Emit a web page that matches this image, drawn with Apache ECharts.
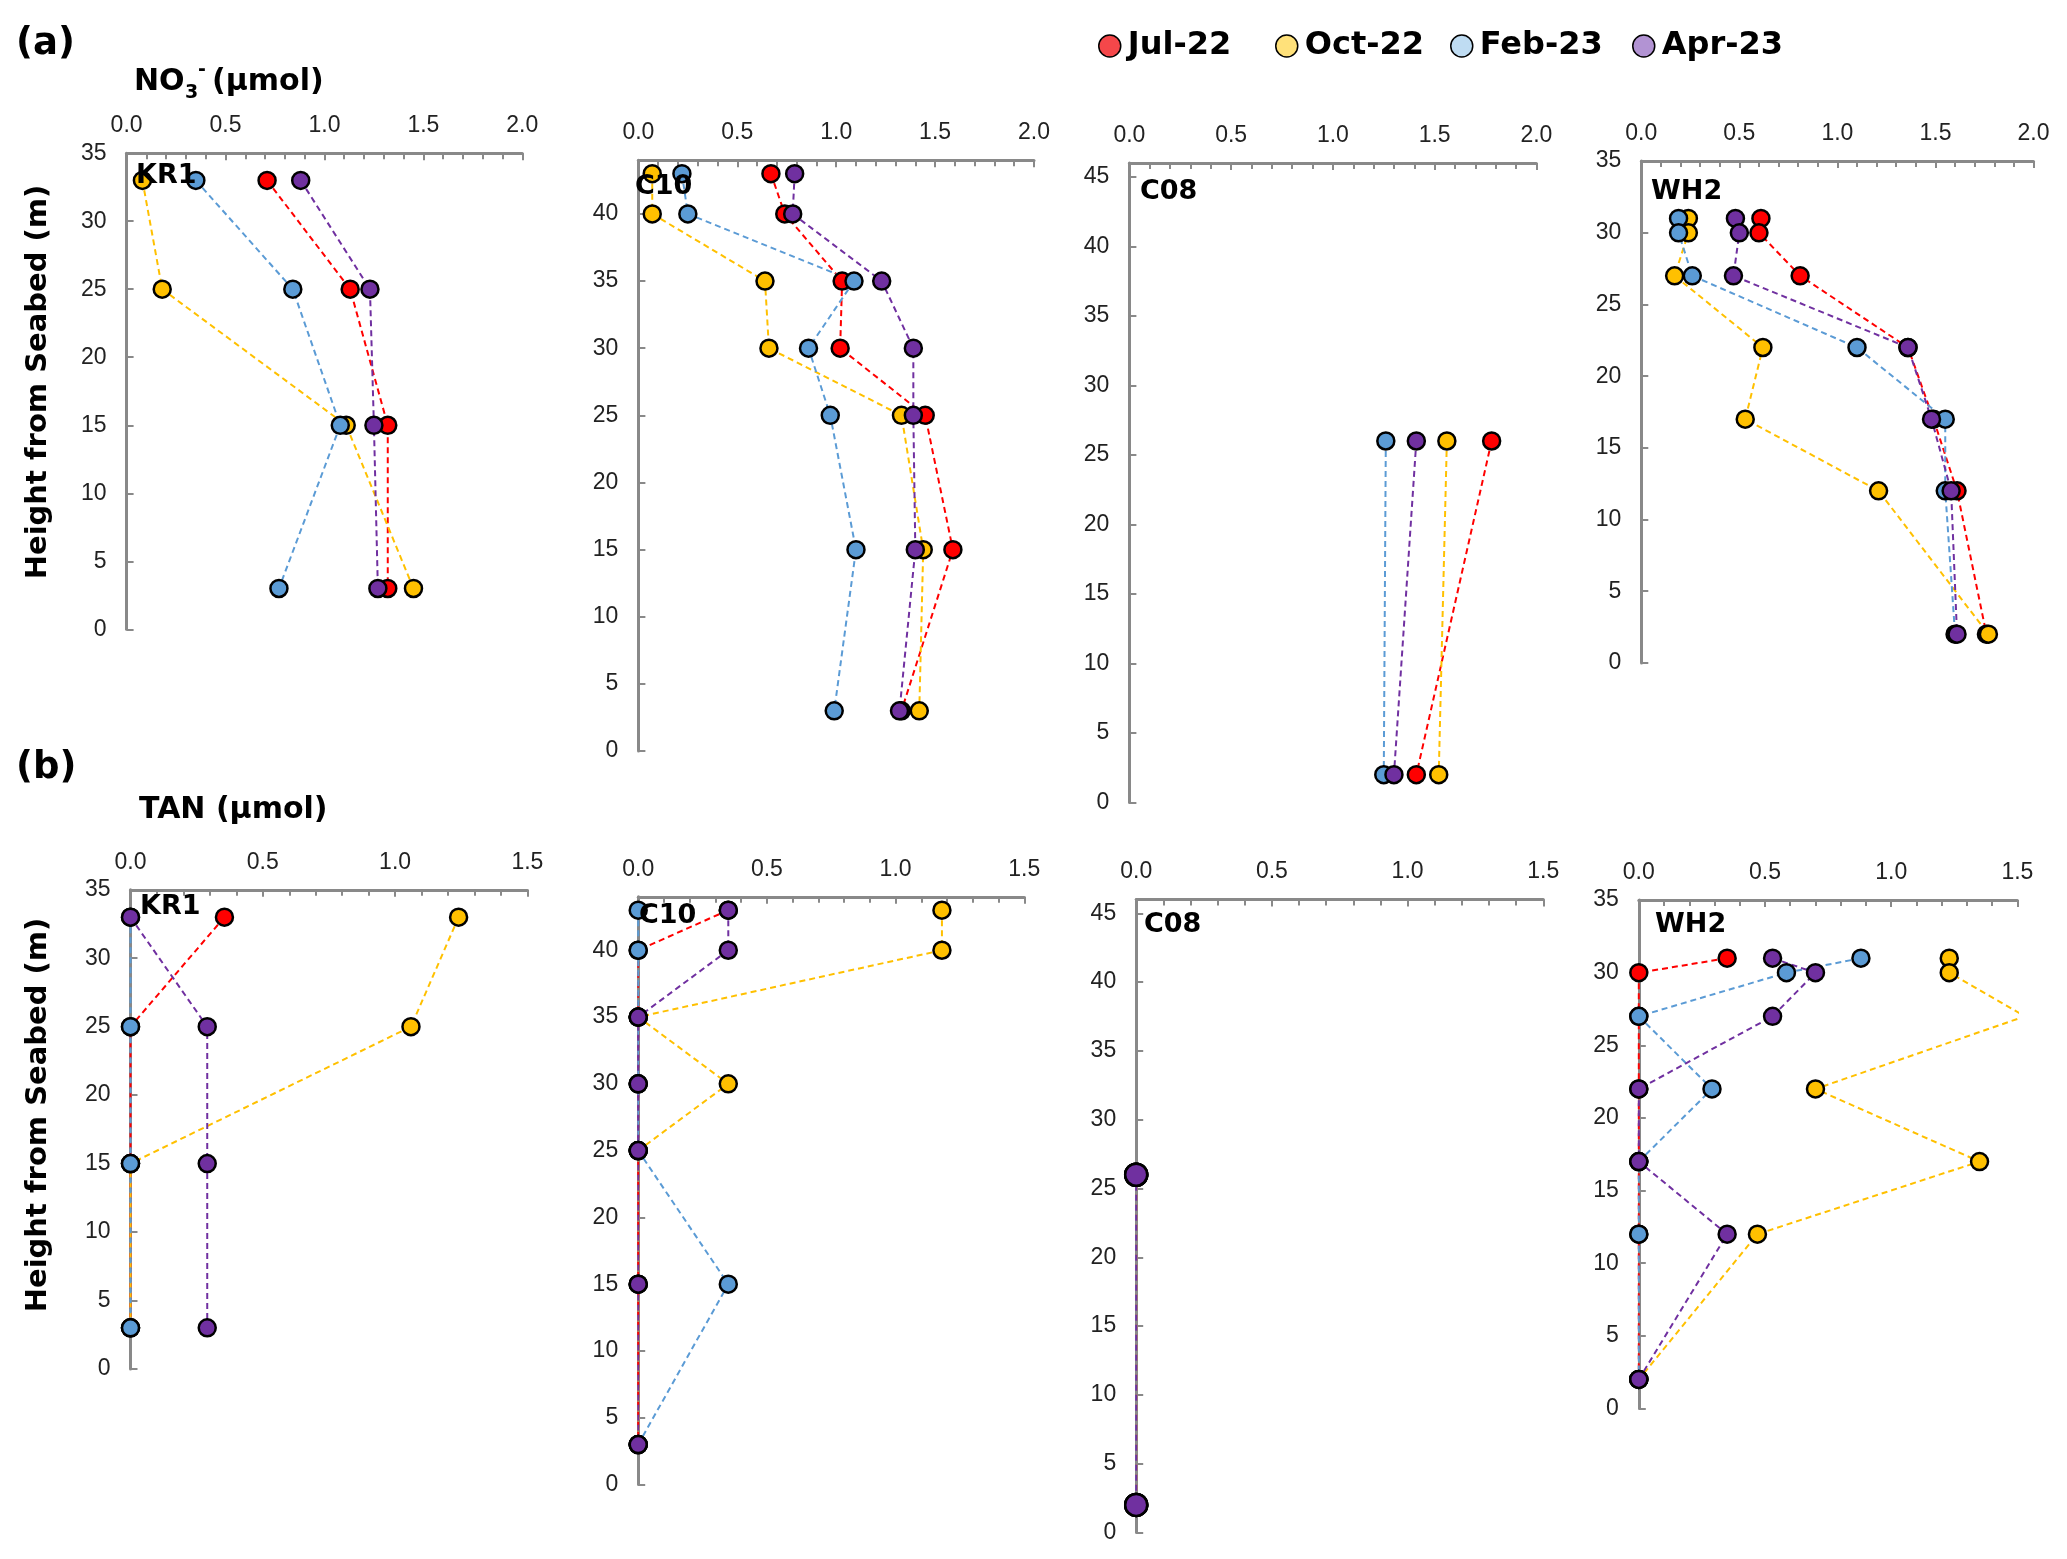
<!DOCTYPE html>
<html>
<head>
<meta charset="utf-8">
<script src="https://cdn.jsdelivr.net/npm/echarts@6/dist/echarts.min.js"></script>
<style>
html,body{margin:0;padding:0;background:#fff;}
#chart{width:2067px;height:1559px;}
</style>
</head>
<body>
<div id="chart"></div>
<script>
// ---------- DATA ----------
const months = ['Jul-22', 'Oct-22', 'Feb-23', 'Apr-23'];
const sites = ['KR1', 'C10', 'C08', 'WH2'];

// heights from seabed (m) at each station
const depthKR1 = [33, 25, 15, 3];
const depthC10 = [43, 40, 35, 30, 25, 15, 3];
const depthC08 = [26, 2];
const depthWH2 = [31, 30, 27, 22, 17, 12, 2];

// NO3- (umol): rows = Jul-22, Oct-22, Feb-23, Apr-23
const no3KR1 = [
  [0.71, 1.13, 1.32, 1.32],
  [0.08, 0.18, 1.11, 1.45],
  [0.35, 0.84, 1.08, 0.77],
  [0.88, 1.23, 1.25, 1.27]
];
const no3C10 = [
  [0.67, 0.74, 1.03, 1.02, 1.45, 1.59, 1.33],
  [0.07, 0.07, 0.64, 0.66, 1.33, 1.44, 1.42],
  [0.22, 0.25, 1.09, 0.86, 0.97, 1.10, 0.99],
  [0.79, 0.78, 1.23, 1.39, 1.39, 1.40, 1.32]
];
const no3C08 = [
  [1.78, 1.41],
  [1.56, 1.52],
  [1.26, 1.25],
  [1.41, 1.30]
];
const no3WH2 = [
  [0.61, 0.60, 0.81, 1.36, 1.49, 1.61, 1.76],
  [0.24, 0.24, 0.17, 0.62, 0.53, 1.21, 1.77],
  [0.19, 0.19, 0.26, 1.10, 1.55, 1.55, 1.60],
  [0.48, 0.50, 0.47, 1.36, 1.48, 1.58, 1.61]
];

// TAN (umol)
const tanKR1 = [
  [0.355, 0, 0, 0],
  [1.24, 1.06, 0, 0],
  [0, 0, 0, 0],
  [0, 0.29, 0.29, 0.29]
];
const tanC10 = [
  [0.35, 0, 0, 0, 0, 0, 0],
  [1.18, 1.18, 0, 0.35, 0, 0, 0],
  [0, 0, 0, 0, 0, 0.35, 0],
  [0.35, 0.35, 0, 0, 0, 0, 0]
];
const tanC08 = [
  [0, 0],
  [0, 0],
  [0, 0],
  [0, 0]
];
const tanWH2 = [
  [0.35, 0, 0, 0, 0, 0, 0],
  [1.23, 1.23, 1.53, 0.70, 1.35, 0.47, 0],
  [0.88, 0.585, 0, 0.29, 0, 0, 0],
  [0.53, 0.70, 0.53, 0, 0, 0.35, 0]
];

// axis ranges
const no3XTicks = [0, 2.0];
const tanXTicks = [0, 1.5];
const yMaxBySite = [35, 44, 46, 35];

// ---------- STYLE / LAYOUT ----------
const seriesColors = ['#ff0000', '#ffc000', '#5b9bd5', '#7030a0'];
const legendColors = ['#f5474a', '#ffe17a', '#bfdcf2', '#b293d3'];
const axisGray = '#898989';
const tickFont = "'Liberation Sans Narrow', 'Arial Narrow', 'Liberation Sans', Arial, sans-serif";
const boldFont = "'DejaVu Sans', sans-serif";

const boxes = [
  // panel (a)
  [126.6, 153.2, 395.7, 476.1],
  [638.4, 160.2, 395.6, 590.9],
  [1129.4, 162.9, 407.0, 639.6],
  [1641.3, 161.1, 392.2, 501.8],
  // panel (b)
  [130.5, 889.8, 396.9, 479.1],
  [638.2, 896.8, 386.1, 587.8],
  [1136.2, 899.6, 407.1, 632.8],
  [1638.8, 900.1, 378.6, 508.4]
];
const labelPos = [
  [136, 176], [635, 187], [1140, 192], [1651, 192],
  [140, 907], [639, 916], [1144, 925], [1655, 925]
];

const depths = [depthKR1, depthC10, depthC08, depthWH2];
const no3Sets = [no3KR1, no3C10, no3C08, no3WH2];
const tanSets = [tanKR1, tanC10, tanC08, tanWH2];

const grids = [], xAxes = [], yAxes = [], series = [], graphics = [];

for (let g = 0; g < 8; g++) {
  const siteIdx = g % 4;
  const isNo3 = g < 4;
  const b = boxes[g];
  grids.push({left: b[0], top: b[1], width: b[2], height: b[3], containLabel: false});
  const xr = isNo3 ? no3XTicks : tanXTicks;
  xAxes.push({
    type: 'value', gridIndex: g, position: 'top', min: xr[0], max: xr[1], interval: 0.5,
    axisLine: {show: true, onZero: false, lineStyle: {color: axisGray, width: 3}},
    axisTick: {show: true, inside: true, length: 7, lineStyle: {color: axisGray, width: 2}},
    minorTick: {show: true, splitNumber: 5, length: 6, lineStyle: {color: axisGray, width: 2}},
    splitLine: {show: false},
    axisLabel: {formatter: v => v.toFixed(1), fontFamily: tickFont, fontSize: 23, color: '#222', margin: 16}
  });
  const ymax = yMaxBySite[siteIdx];
  yAxes.push({
    type: 'value', gridIndex: g, min: 0, max: ymax, interval: 5,
    axisLine: {show: true, onZero: false, lineStyle: {color: axisGray, width: 3}},
    axisTick: {show: true, inside: true, length: 7, lineStyle: {color: axisGray, width: 2}},
    splitLine: {show: false},
    axisLabel: {fontFamily: tickFont, fontSize: 23, color: '#222', margin: 20, showMaxLabel: ymax % 5 === 0}
  });
  const rows = isNo3 ? no3Sets[siteIdx] : tanSets[siteIdx];
  const dep = depths[siteIdx];
  const symSize = (!isNo3 && siteIdx === 2) ? 22 : 17;
  months.forEach((m, i) => {
    series.push({
      type: 'line', name: m, xAxisIndex: g, yAxisIndex: g,
      data: rows[i].map((v, k) => [v, dep[k]]),
      symbol: 'circle', symbolSize: symSize, showSymbol: true, showAllSymbol: true,
      clip: true, silent: true,
      itemStyle: {color: seriesColors[i], borderColor: '#000', borderWidth: 2.5},
      lineStyle: {color: seriesColors[i], width: 2, type: [6, 4]},
      emphasis: {disabled: true}
    });
  });
  graphics.push({
    type: 'text', x: labelPos[g][0], y: labelPos[g][1], z: 10,
    style: {text: sites[siteIdx], font: 'bold 27px ' + boldFont, fill: '#000', textAlign: 'left', textVerticalAlign: 'middle'}
  });
}

// Titles
graphics.push(
  {type: 'text', x: 16, y: 44, style: {text: '(a)', font: 'bold 37px ' + boldFont, fill: '#000', textVerticalAlign: 'middle'}},
  {type: 'text', x: 16, y: 768, style: {text: '(b)', font: 'bold 37px ' + boldFont, fill: '#000', textVerticalAlign: 'middle'}},
  {type: 'text', x: 134, y: 82, style: {text: 'NO', font: 'bold 30px ' + boldFont, fill: '#000', textVerticalAlign: 'middle'}},
  {type: 'text', x: 185, y: 93, style: {text: '3', font: 'bold 19px ' + boldFont, fill: '#000', textVerticalAlign: 'middle'}},
  {type: 'text', x: 198, y: 70, style: {text: '-', font: 'bold 19px ' + boldFont, fill: '#000', textVerticalAlign: 'middle'}},
  {type: 'text', x: 212, y: 82, style: {text: '(µmol)', font: 'bold 30px ' + boldFont, fill: '#000', textVerticalAlign: 'middle'}},
  {type: 'text', x: 139, y: 810, style: {text: 'TAN (µmol)', font: 'bold 30px ' + boldFont, fill: '#000', textVerticalAlign: 'middle'}},
  {type: 'text', x: 38, y: 382, rotation: Math.PI / 2, style: {text: 'Height from Seabed (m)', font: 'bold 29px ' + boldFont, fill: '#000', textAlign: 'center', textVerticalAlign: 'middle'}},
  {type: 'text', x: 38, y: 1115, rotation: Math.PI / 2, style: {text: 'Height from Seabed (m)', font: 'bold 29px ' + boldFont, fill: '#000', textAlign: 'center', textVerticalAlign: 'middle'}}
);

const legendLefts = [1098, 1275, 1450, 1632];
const legends = months.map((m, i) => ({
  left: legendLefts[i], top: 30, padding: 0, orient: 'horizontal',
  itemWidth: 26, itemHeight: 22, selectedMode: false,
  data: [{name: m, icon: 'circle', itemStyle: {color: legendColors[i], borderColor: '#000', borderWidth: 1.5}}],
  textStyle: {fontFamily: boldFont, fontWeight: 'bold', fontSize: 32, color: '#000'}
}));

const chart = echarts.init(document.getElementById('chart'), null, {renderer: 'canvas'});
chart.setOption({
  backgroundColor: '#fff',
  animation: false,
  legend: legends,
  grid: grids,
  xAxis: xAxes,
  yAxis: yAxes,
  series: series,
  graphic: graphics
});
</script>
</body>
</html>
